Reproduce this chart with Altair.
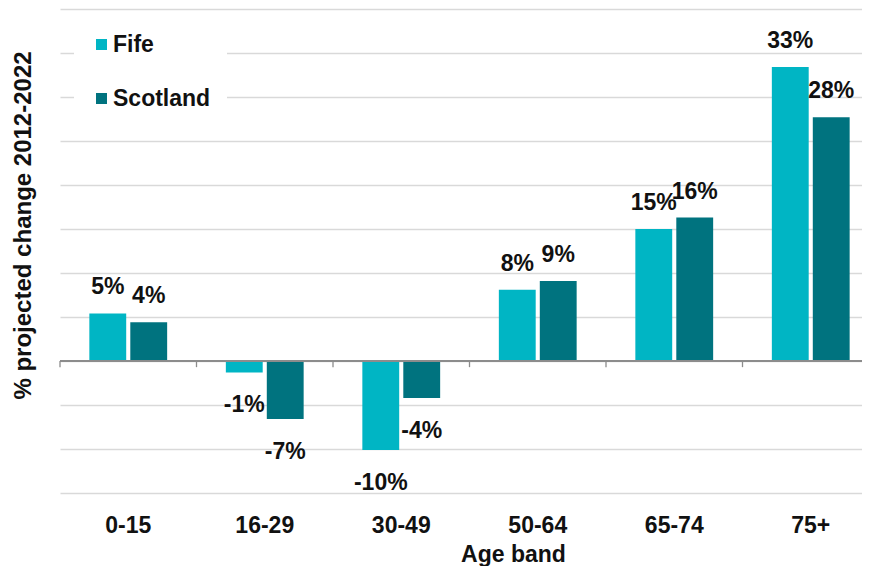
import altair as alt
import pandas as pd

ages = ["0-15", "16-29", "30-49", "50-64", "65-74", "75+"]
series = ["Fife", "Scotland"]
fife = [5.4, -1.3, -10.1, 8.1, 15.0, 33.4]
scotland = [4.4, -6.6, -4.2, 9.1, 16.3, 27.7]
colors = ["#00B5C4", "#00737F"]
grid_values = list(range(-15, 41, 5))

rows = []
for a, f, s in zip(ages, fife, scotland):
    rows.append({"age": a, "series": "Fife", "value": f})
    rows.append({"age": a, "series": "Scotland", "value": s})
df = pd.DataFrame(rows)
df["label"] = df["value"].round(0).astype(int).astype(str) + "%"

FONT = "Liberation Sans"
FS = 23
TXT = "#111111"

W, H = 819, 484
PAD_IN = 0.43
xscale = alt.Scale(domain=ages, paddingInner=PAD_IN, paddingOuter=PAD_IN / 2)
yscale = alt.Scale(domain=[-15, 40], nice=False, zero=False)
step = W / len(ages)
boundary_shift = -PAD_IN * step / 2

x_enc = alt.X(
    "age:N", scale=xscale, sort=ages, title="Age band",
    axis=alt.Axis(
        domain=False, ticks=False, tickSize=0, labelAngle=0, grid=False,
        labelFont=FONT, labelFontSize=FS, labelFontWeight="bold", labelColor=TXT,
        labelPadding=32, labelBaseline="middle",
        titleFont=FONT, titleFontSize=FS, titleFontWeight="bold", titleColor=TXT,
        titleX=453, titleY=61, titleBaseline="middle", titleAlign="center",
    ),
)

y_enc = alt.Y(
    "value:Q", scale=yscale, title="% projected change 2012-2022",
    axis=alt.Axis(
        values=grid_values, labels=False, ticks=False, domain=False,
        grid=True, gridColor="#D9D9D9", gridWidth=1.6,
        titleFont=FONT, titleFontSize=24, titleFontWeight="bold", titleColor=TXT,
        titleX=-37, titleY=216, titleBaseline="middle", titleAlign="center", titleAngle=270,
    ),
)

base = alt.Chart(df)

bars = base.mark_bar().encode(
    x=x_enc,
    xOffset=alt.XOffset("series:N", sort=series,
                        scale=alt.Scale(paddingInner=0.1, paddingOuter=0)),
    y=y_enc,
    color=alt.Color(
        "series:N", sort=series,
        scale=alt.Scale(domain=series, range=colors),
        legend=alt.Legend(
            title=None, orient="none", legendX=14, legendY=8, padding=16,
            fillColor="white", symbolType="square", symbolSize=121,
            symbolStrokeWidth=0, labelFont=FONT, labelFontSize=FS,
            labelFontWeight="bold", labelColor=TXT, rowPadding=30, labelOffset=0,
            direction="vertical",
        ),
    ),
)

pos_labels = base.transform_filter("datum.value >= 0").mark_text(
    font=FONT, fontSize=FS, fontWeight="bold", color=TXT, baseline="middle", dy=-26
).encode(
    x=alt.X("age:N", scale=xscale, sort=ages),
    xOffset=alt.XOffset("series:N", sort=series),
    y=alt.Y("value:Q", scale=yscale),
    text="label:N",
)

neg_labels = base.transform_filter("datum.value < 0").mark_text(
    font=FONT, fontSize=FS, fontWeight="bold", color=TXT, baseline="middle", dy=33
).encode(
    x=alt.X("age:N", scale=xscale, sort=ages),
    xOffset=alt.XOffset("series:N", sort=series),
    y=alt.Y("value:Q", scale=yscale),
    text="label:N",
)

cats = pd.DataFrame({"age": ages})
zero_line = alt.Chart(cats).mark_rule(color="#8C8C8C", strokeWidth=1.3).encode(
    y=alt.datum(0)
)
ticks = alt.Chart(cats).mark_rule(
    color="#8C8C8C", strokeWidth=1.3, xOffset=boundary_shift
).encode(
    x=alt.X("age:N", scale=xscale, sort=ages, bandPosition=0),
    y=alt.datum(0),
    y2=alt.datum(-0.7),
)

chart = alt.layer(bars, zero_line, ticks, pos_labels, neg_labels).properties(
    width=W, height=H,
    background="white",
    autosize=alt.AutoSizeParams(type="none"),
    padding={"left": 52, "top": 1, "right": -17, "bottom": 73},
).configure_view(strokeWidth=0, stroke="transparent").configure_axis(
    domain=False, ticks=False
)

chart.save("out.html", embed_options={"renderer": "svg", "actions": False})
